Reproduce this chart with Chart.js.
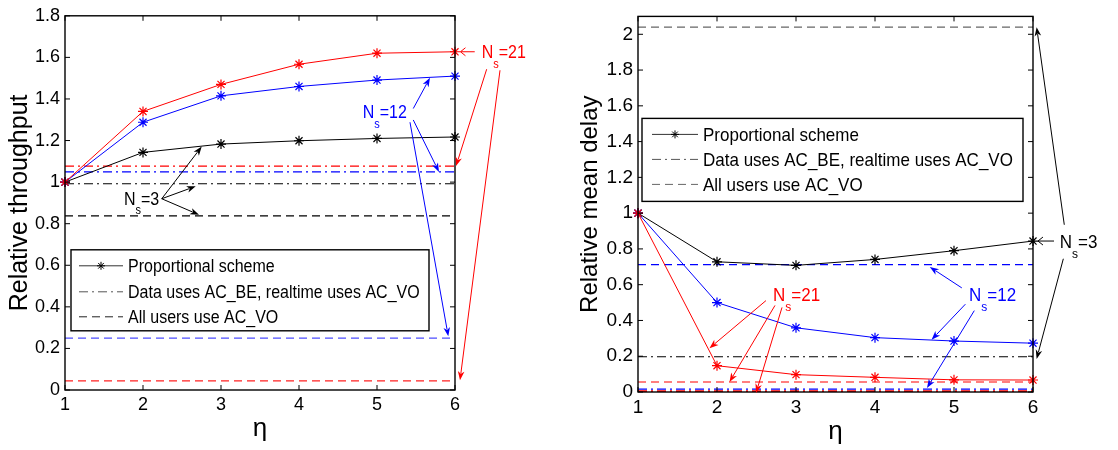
<!DOCTYPE html>
<html><head><meta charset="utf-8">
<script src="https://cdn.jsdelivr.net/npm/chart.js@4.4.1/dist/chart.umd.min.js"></script>
<style>
html,body{margin:0;padding:0;background:#fff;}
#wrap{position:relative;width:1118px;height:450px;overflow:hidden;}
canvas{position:absolute;top:0;}
#c1{left:0;} #c2{left:560px;}
</style></head><body>
<div id="wrap"><canvas id="c1" width="560" height="450"></canvas><canvas id="c2" width="558" height="450"></canvas></div>
<script>
// ---------------- data ----------------
const eta = [1, 2, 3, 4, 5, 6];
const nsValues = ['3', '12', '21'];
const nsColors = ['#000000', '#0000ff', '#ff0000'];

// Relative throughput (left)
const thrNs3  = [1, 1.143, 1.183, 1.199, 1.210, 1.217];
const thrNs12 = [1, 1.288, 1.415, 1.460, 1.491, 1.510];
const thrNs21 = [1, 1.340, 1.470, 1.567, 1.620, 1.627];
const thrBEVO  = [0.992, 1.049, 1.077];   // Data uses AC_BE, realtime uses AC_VO (Ns=3,12,21)
const thrAllVO = [0.838, 0.250, 0.044];   // All users use AC_VO (Ns=3,12,21)

// Relative mean delay (right)
const delNs3  = [1, 0.728, 0.708, 0.741, 0.790, 0.844];
const delNs12 = [1, 0.500, 0.359, 0.304, 0.285, 0.273];
const delNs21 = [1, 0.147, 0.097, 0.082, 0.068, 0.067];
const delBEVO  = [0.197, 0.016, 0.003];
const delAllVO = [2.040, 0.712, 0.056];

// ticks
const xTicks = [1, 2, 3, 4, 5, 6];
const xTickLabels = ['1', '2', '3', '4', '5', '6'];
const yTicksThr = [0, 0.2, 0.4, 0.6, 0.8, 1, 1.2, 1.4, 1.6, 1.8];
const yTickLabelsThr = ['0', '0.2', '0.4', '0.6', '0.8', '1', '1.2', '1.4', '1.6', '1.8'];
const yTicksDel = [0, 0.2, 0.4, 0.6, 0.8, 1, 1.2, 1.4, 1.6, 1.8, 2];
const yTickLabelsDel = ['0', '0.2', '0.4', '0.6', '0.8', '1', '1.2', '1.4', '1.6', '1.8', '2'];

const legendLabels = ['Proportional scheme', 'Data uses AC_BE, realtime uses AC_VO', 'All users use AC_VO'];

// ---------------- helpers ----------------
const FF = "'Liberation Sans', Arial, Helvetica, sans-serif";
const VS = 1.13; // vertical stretch of the original figure's text
Chart.defaults.font.family = FF;
Chart.defaults.color = '#000';

function curve(vals, color, order) {
  return {
    data: eta.map((x, i) => ({x: x, y: vals[i]})),
    borderColor: color, borderWidth: 1, tension: 0, fill: false,
    pointStyle: 'star', pointRadius: 5, pointBorderColor: color, pointBorderWidth: 1.2,
    pointBackgroundColor: color, clip: false, order: order
  };
}
function hline(v, color, dash, width, order) {
  return {
    data: [{x: eta[0], y: v}, {x: eta[eta.length - 1], y: v}],
    borderColor: color, borderWidth: width || 1.2, borderDash: dash, pointRadius: 0,
    fill: false, order: order
  };
}
const DASH = [8, 5];
const DASHDOT = [9, 4, 2, 4];

function sText(ctx, t, x, y) {
  ctx.save(); ctx.translate(x, y); ctx.scale(1, VS); ctx.fillText(t, 0, 0); ctx.restore();
}
function drawArrow(ctx, x1, y1, x2, y2, color) {
  const a = Math.atan2(y2 - y1, x2 - x1), L = 9, W = 3.3;
  const bx = x2 - L * Math.cos(a), by = y2 - L * Math.sin(a);
  ctx.strokeStyle = color; ctx.fillStyle = color; ctx.lineWidth = 1; ctx.setLineDash([]);
  ctx.beginPath(); ctx.moveTo(x1, y1); ctx.lineTo(bx + 2 * Math.cos(a), by + 2 * Math.sin(a)); ctx.stroke();
  ctx.beginPath(); ctx.moveTo(x2, y2);
  ctx.lineTo(bx + W * Math.sin(a), by - W * Math.cos(a));
  ctx.lineTo(bx + 2.5 * Math.cos(a), by + 2.5 * Math.sin(a));
  ctx.lineTo(bx - W * Math.sin(a), by + W * Math.cos(a));
  ctx.closePath(); ctx.fill();
}
function drawLeftArrow(ctx, x1, x2, y, color) {
  ctx.strokeStyle = color; ctx.lineWidth = 1; ctx.setLineDash([]);
  ctx.beginPath(); ctx.moveTo(x1, y); ctx.lineTo(x2, y);
  ctx.moveTo(x1 + 5, y - 4); ctx.lineTo(x1, y); ctx.lineTo(x1 + 5, y + 4); ctx.stroke();
}
function drawNs(ctx, x, yc, val, fs, color) {
  ctx.fillStyle = color; ctx.textAlign = 'left'; ctx.textBaseline = 'alphabetic';
  const base = yc + 0.36 * fs * VS;
  ctx.font = fs + 'px ' + FF;
  sText(ctx, 'N', x, base);
  const w1 = ctx.measureText('N').width;
  ctx.font = Math.round(fs * 0.7) + 'px ' + FF;
  sText(ctx, 's', x + w1, base + fs * 0.6);
  const w2 = ctx.measureText('s').width;
  ctx.font = fs + 'px ' + FF;
  sText(ctx, '=' + val, x + w1 + w2, base);
}

function framePlugin(cfg) {
  return {
    id: 'frame' + cfg.id,
    afterDraw(chart) {
      const ctx = chart.ctx, ca = chart.chartArea, sx = chart.scales.x, sy = chart.scales.y;
      const P = (x, y) => [sx.getPixelForValue(x), sy.getPixelForValue(y)];
      ctx.save();
      // ticks (inward) and frame
      ctx.strokeStyle = '#000'; ctx.lineWidth = 1; ctx.setLineDash([]);
      ctx.beginPath();
      xTicks.forEach(v => { const p = sx.getPixelForValue(v);
        ctx.moveTo(p, ca.bottom); ctx.lineTo(p, ca.bottom - 5);
        ctx.moveTo(p, ca.top); ctx.lineTo(p, ca.top + 5); });
      cfg.yTicks.forEach(v => { const p = sy.getPixelForValue(v);
        ctx.moveTo(ca.left, p); ctx.lineTo(ca.left + 5, p);
        ctx.moveTo(ca.right, p); ctx.lineTo(ca.right - 5, p); });
      ctx.stroke();
      ctx.lineWidth = 1.4;
      ctx.strokeRect(ca.left, ca.top, ca.right - ca.left, ca.bottom - ca.top);

      // legend
      const L = cfg.legend;
      const bx = ca.left + L.x, by = ca.top + L.y;
      ctx.fillStyle = '#fff';
      ctx.fillRect(bx, by, L.w, L.h);
      ctx.lineWidth = 1.4; ctx.strokeStyle = '#000';
      ctx.strokeRect(bx, by, L.w, L.h);
      const styles = [[], DASHDOT, DASH];
      const scol = ['#333', '#555', cfg.legendDashColor];
      legendLabels.forEach((t, i) => {
        const yy = by + L.rows[i];
        ctx.strokeStyle = scol[i]; ctx.lineWidth = 1; ctx.setLineDash(styles[i]);
        ctx.beginPath(); ctx.moveTo(bx + L.s0, yy); ctx.lineTo(bx + L.s1, yy); ctx.stroke();
        ctx.setLineDash([]);
        if (i === 0) {
          const cx = bx + (L.s0 + L.s1) / 2, r = 4;
          ctx.strokeStyle = '#000'; ctx.beginPath();
          ctx.moveTo(cx - r, yy); ctx.lineTo(cx + r, yy);
          ctx.moveTo(cx, yy - r); ctx.lineTo(cx, yy + r);
          const d = r * 0.707;
          ctx.moveTo(cx - d, yy - d); ctx.lineTo(cx + d, yy + d);
          ctx.moveTo(cx - d, yy + d); ctx.lineTo(cx + d, yy - d);
          ctx.stroke();
        }
        ctx.fillStyle = '#000'; ctx.font = L.fs + 'px ' + FF;
        ctx.textAlign = 'left'; ctx.textBaseline = 'alphabetic';
        sText(ctx, t, bx + L.tx, yy + 0.36 * L.fs * VS);
      });

      // annotations
      cfg.annots.forEach(a => {
        const c = nsColors[a.ns];
        a.arrows.forEach(r => {
          const p1 = P(r[0], r[1]), p2 = P(r[2], r[3]);
          drawArrow(ctx, p1[0], p1[1], p2[0], p2[1], c);
        });
        if (a.left) {
          const q1 = P(a.left[0], a.left[2]), q2 = P(a.left[1], a.left[2]);
          drawLeftArrow(ctx, q1[0], q2[0], q1[1], c);
        }
        const p = P(a.at[0], a.at[1]);
        drawNs(ctx, p[0], p[1], nsValues[a.ns], cfg.annotFs, c);
      });
      ctx.restore();
    }
  };
}

function makeChart(id, cfg) {
  const ds = [];
  ds.push(curve(cfg.c21, nsColors[2], 0));
  ds.push(curve(cfg.c12, nsColors[1], 1));
  ds.push(curve(cfg.c3, nsColors[0], 2));
  cfg.lines.forEach((l, i) => ds.push(hline(l.v, l.color, l.dash, l.width, 10 + i)));
  return new Chart(document.getElementById(id), {
    type: 'line',
    data: {datasets: ds},
    options: {
      responsive: false, animation: false, events: [],
      layout: {padding: {left: 0, top: 6, right: cfg.padRight, bottom: 0}},
      plugins: {legend: {display: false}, tooltip: {enabled: false}},
      scales: {
        x: {
          type: 'linear', min: 1, max: 6,
          afterBuildTicks: s => { s.ticks = xTicks.map(v => ({value: v})); },
          afterFit: s => { s.height = cfg.xH; },
          grid: {display: false, drawTicks: false},
          border: {display: false},
          ticks: {font: {size: cfg.tickFs}, color: '#000', padding: cfg.xPad,
                  callback: (v, i) => xTickLabels[i]},
          title: {display: true, text: 'η', font: {size: 26}, color: '#000',
                  padding: {top: 0, bottom: cfg.xTitlePad}}
        },
        y: {
          type: 'linear', min: 0, max: cfg.ymax,
          afterBuildTicks: s => { s.ticks = cfg.yTicks.map(v => ({value: v})); },
          afterFit: s => { s.width = cfg.yW; },
          grid: {display: false, drawTicks: false},
          border: {display: false},
          ticks: {font: {size: cfg.tickFs}, color: '#000', padding: 5,
                  callback: (v, i) => cfg.yLabels[i]},
          title: {display: true, text: cfg.ytitle, font: {size: cfg.yTitleFs, lineHeight: 1}, color: '#000',
                  padding: {top: cfg.yTitlePad, bottom: 0}}
        }
      }
    },
    plugins: [framePlugin(cfg)]
  });
}

// left: throughput
makeChart('c1', {
  id: 'L', c3: thrNs3, c12: thrNs12, c21: thrNs21,
  lines: [
    {v: thrBEVO[2], color: '#ff0000', dash: DASHDOT},
    {v: thrBEVO[1], color: '#0000ff', dash: DASHDOT},
    {v: thrBEVO[0], color: '#000000', dash: DASHDOT},
    {v: thrAllVO[0], color: '#000000', dash: DASH},
    {v: thrAllVO[1], color: '#4d4dff', dash: DASH},
    {v: thrAllVO[2], color: '#ff2020', dash: DASH}
  ],
  ymax: 1.8, yTicks: yTicksThr, yLabels: yTickLabelsThr,
  padRight: 105, xH: 60, yW: 65, tickFs: 18, xPad: 4, xTitlePad: 6,
  ytitle: 'Relative throughput', yTitleFs: 25, yTitlePad: 8,
  legend: {x: 6, y: 234, w: 358, h: 81, rows: [16, 42, 67], s0: 8, s1: 52, tx: 57, fs: 16},
  legendDashColor: '#222',
  annotFs: 16,
  annots: [
    {ns: 0, at: [1.756, 0.923], arrows: [[2.24, 0.92, 2.753, 1.171], [2.24, 0.92, 2.676, 0.980], [2.24, 0.92, 2.718, 0.843]]},
    {ns: 1, at: [4.817, 1.340], arrows: [[5.465, 1.354, 5.679, 1.502], [5.465, 1.299, 5.795, 1.049], [5.423, 1.288, 5.914, 0.258]]},
    {ns: 2, at: [6.342, 1.627], left: [6.07, 6.253, 1.627], arrows: [[6.406, 1.543, 6.013, 1.077], [6.577, 1.538, 6.064, 0.047]]}
  ]
});

// right: delay
makeChart('c2', {
  id: 'R', c3: delNs3, c12: delNs12, c21: delNs21,
  lines: [
    {v: delAllVO[0], color: '#666666', dash: DASH},
    {v: delAllVO[1], color: '#0000ff', dash: DASH},
    {v: delBEVO[0], color: '#000000', dash: DASHDOT},
    {v: delAllVO[2], color: '#ff0000', dash: DASH},
    {v: delBEVO[1], color: '#0000ff', dash: DASHDOT},
    {v: delBEVO[2], color: '#ff0000', dash: DASHDOT, width: 2.5}
  ],
  ymax: 2.1, yTicks: yTicksDel, yLabels: yTickLabelsDel,
  padRight: 85, xH: 58, yW: 78, tickFs: 19, xPad: 4, xTitlePad: 3,
  ytitle: 'Relative mean delay', yTitleFs: 24, yTitlePad: 18,
  legend: {x: 4, y: 102, w: 381, h: 83, rows: [16, 41, 66], s0: 10, s1: 56, tx: 61, fs: 17},
  legendDashColor: '#666',
  annotFs: 17,
  annots: [
    {ns: 0, at: [6.338, 0.844], left: [6.063, 6.266, 0.844], arrows: [[6.396, 0.935, 6.046, 2.040], [6.384, 0.745, 6.046, 0.185]]},
    {ns: 1, at: [5.190, 0.549], arrows: [[5.099, 0.582, 4.694, 0.699], [5.144, 0.491, 4.716, 0.292], [5.257, 0.455, 4.658, 0.022]]},
    {ns: 2, at: [2.709, 0.549], arrows: [[2.620, 0.511, 1.905, 0.245], [2.734, 0.484, 2.158, 0.056], [2.823, 0.473, 2.494, -0.005]]}
  ]
});
</script>
</body></html>
